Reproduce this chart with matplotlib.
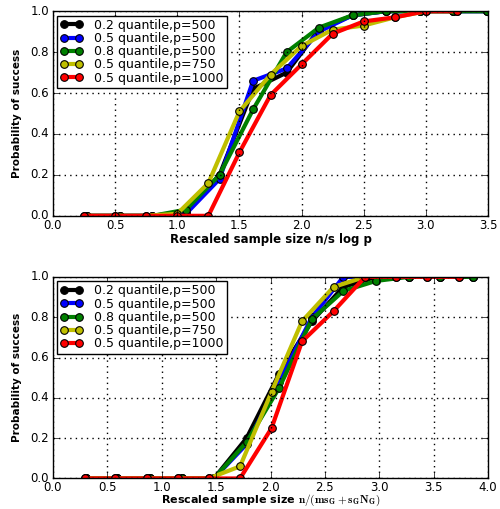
import matplotlib
matplotlib.use("Agg")
import matplotlib.pyplot as plt

plt.style.use("classic")

# ---------------- data: top panel ----------------
top_x_p500 = [0.27, 0.54, 0.80, 1.07, 1.34, 1.61, 1.88, 2.14, 2.41, 2.68, 2.95, 3.22, 3.49]
top_x_p750 = [0.25, 0.50, 0.75, 1.00, 1.25, 1.50, 1.75, 2.00, 2.25, 2.50, 2.75, 3.00, 3.25]
top_x_p1000 = [0.25, 0.50, 0.75, 1.00, 1.25, 1.50, 1.75, 2.00, 2.25, 2.50, 2.75, 3.00, 3.25]
top_q02_p500 = [0, 0, 0, 0.02, 0.20, 0.62, 0.70, 0.91, 0.98, 1.0, 1.0, 1.0, 1.0]
top_q05_p500 = [0, 0, 0, 0.01, 0.18, 0.66, 0.72, 0.90, 0.98, 1.0, 1.0, 1.0, 1.0]
top_q08_p500 = [0, 0, 0, 0.03, 0.20, 0.52, 0.80, 0.92, 0.98, 1.0, 1.0, 1.0, 1.0]
top_q05_p750 = [0, 0, 0, 0.01, 0.16, 0.51, 0.69, 0.83, 0.91, 0.93, 0.97, 1.0, 1.0]
top_q05_p1000 = [0, 0, 0, 0, 0, 0.31, 0.59, 0.74, 0.89, 0.95, 0.97, 1.0, 1.0]

# ---------------- data: bottom panel ----------------
bot_x_p500 = [0.30, 0.59, 0.89, 1.19, 1.48, 1.78, 2.08, 2.38, 2.67, 2.97, 3.27, 3.56, 3.86]
bot_x_p750 = [0.29, 0.57, 0.86, 1.15, 1.43, 1.72, 2.01, 2.29, 2.58, 2.87, 3.15, 3.44, 3.73]
bot_x_p1000 = [0.29, 0.57, 0.86, 1.15, 1.43, 1.72, 2.01, 2.29, 2.58, 2.87, 3.15, 3.44, 3.73]
bot_q02_p500 = [0, 0, 0, 0, 0, 0.20, 0.52, 0.78, 0.95, 1.0, 1.0, 1.0, 1.0]
bot_q05_p500 = [0, 0, 0, 0, 0, 0.17, 0.48, 0.80, 1.0, 1.0, 1.0, 1.0, 1.0]
bot_q08_p500 = [0, 0, 0, 0, 0, 0.18, 0.45, 0.79, 0.93, 0.98, 1.0, 1.0, 1.0]
bot_q05_p750 = [0, 0, 0, 0, 0, 0.06, 0.43, 0.78, 0.95, 1.0, 1.0, 1.0, 1.0]
bot_q05_p1000 = [0, 0, 0, 0, 0, 0, 0.25, 0.68, 0.83, 1.0, 1.0, 1.0, 1.0]

labels = ["0.2 quantile,p=500", "0.5 quantile,p=500", "0.8 quantile,p=500",
          "0.5 quantile,p=750", "0.5 quantile,p=1000"]
colors = ["k", "b", "g", "y", "r"]

top_series = [(top_x_p500, top_q02_p500), (top_x_p500, top_q05_p500),
              (top_x_p500, top_q08_p500), (top_x_p750, top_q05_p750),
              (top_x_p1000, top_q05_p1000)]
bot_series = [(bot_x_p500, bot_q02_p500), (bot_x_p500, bot_q05_p500),
              (bot_x_p500, bot_q08_p500), (bot_x_p750, bot_q05_p750),
              (bot_x_p1000, bot_q05_p1000)]

fig = plt.figure(figsize=(5.0, 5.09), dpi=100, facecolor="white")
ax1 = fig.add_axes([0.106, 0.576, 0.870, 0.402])
ax2 = fig.add_axes([0.106, 0.060, 0.870, 0.396])


def draw(ax, series, xmax, xlabel, label_y, label_size, **kw):
    for (x, y), c, lab in zip(series, colors, labels):
        ax.plot(x, y, "-o", color=c, lw=3, markersize=5.5, markeredgecolor="k",
                markeredgewidth=0.8, label=lab, clip_on=True)
    ax.set_xlim(0, xmax)
    ax.set_ylim(0, 1.0)
    ax.set_yticks([0.0, 0.2, 0.4, 0.6, 0.8, 1.0])
    ax.grid(True, color="k", linestyle=(0, (1, 3)), lw=1.0)
    ax.tick_params(labelsize=8.5, direction="in", length=4, pad=2)
    ax.tick_params(axis="y", pad=3)
    ax.set_ylabel("Probability of success", fontsize=7.5, fontweight="bold", labelpad=6)
    ax.set_xlabel(xlabel, fontsize=label_size, fontweight="bold", **kw)
    ax.xaxis.set_label_coords(0.5, label_y)
    leg = ax.legend(loc="upper left", fontsize=9, numpoints=2, handlelength=1.8,
                    labelspacing=0.02, borderpad=0.25, borderaxespad=0.35,
                    handletextpad=0.9, fancybox=False)
    leg.get_frame().set_linewidth(1.0)
    for sp in ax.spines.values():
        sp.set_linewidth(1.0)


draw(ax1, top_series, 3.5, "Rescaled sample size n/s log p", -0.085, 8.5)
ax1.set_xticks([0.0, 0.5, 1.0, 1.5, 2.0, 2.5, 3.0, 3.5])
draw(ax2, bot_series, 4.0, r"Rescaled sample size $\mathbf{n/(ms_G+s_GN_G)}$", -0.072, 8,
     math_fontfamily="cm")
ax2.set_xticks([0.0, 0.5, 1.0, 1.5, 2.0, 2.5, 3.0, 3.5, 4.0])

fig.savefig("out.png", dpi=100, facecolor="white")
